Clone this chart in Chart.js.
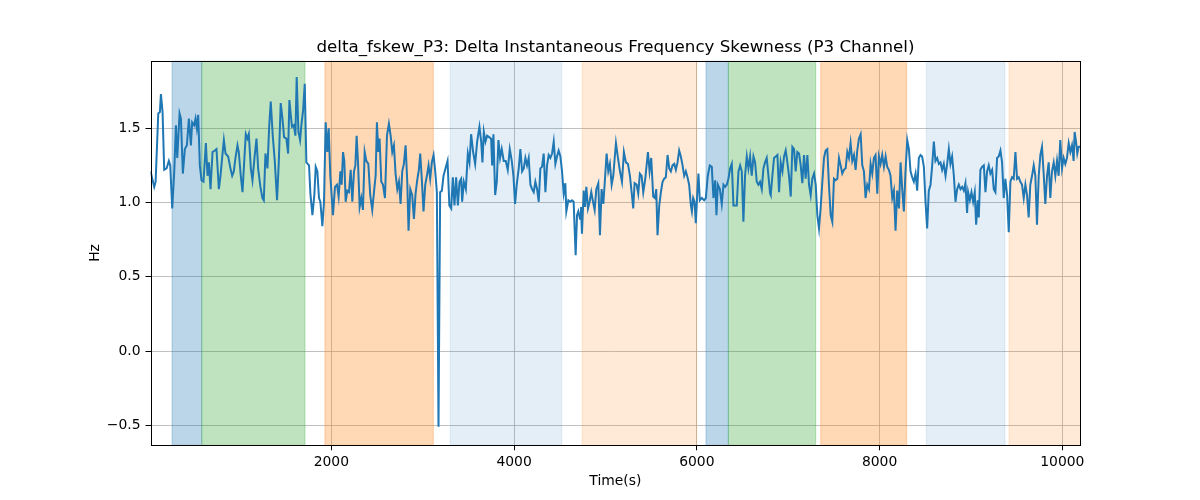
<!DOCTYPE html>
<html>
<head>
<meta charset="utf-8">
<script src="https://cdn.jsdelivr.net/npm/chart.js@4/dist/chart.umd.min.js"></script>
<style>
  html, body { margin: 0; padding: 0; background: #fff; }
  canvas { display: block; }
</style>
</head>
<body>
<canvas id="c" width="1200" height="500"></canvas>
<script>
// ---------------- data ----------------
const chartTitle = 'delta_fskew_P3: Delta Instantaneous Frequency Skewness (P3 Channel)';
const xAxisLabel = 'Time(s)';
const yAxisLabel = 'Hz';

const xTicks = [2000, 4000, 6000, 8000, 10000];
const yTicks = [-0.5, 0.0, 0.5, 1.0, 1.5];
const xRange = [21, 10197];
const yRange = [-0.635, 1.955];

const timeSec = [
  // 0 - 1710
  21,62,77,106,124,135,153,171,197,222,237,259,281,299,314,339,354,375,397,419,
  441,463,477,499,514,528,543,561,579,601,627,645,660,678,700,725,743,769,787,805,
  824,842,871,896,915,933,951,973,987,1009,1028,1046,1064,1082,1097,1119,1137,1159,1181,1199,
  1224,1246,1261,1279,1301,1319,1337,1359,1381,1406,1425,1446,1465,1483,1508,1527,1541,1556,1570,1589,
  1607,1621,1640,1658,1672,1691,1709,
  // 1727 - 3403
  1727,1756,1771,1793,1814,1829,1847,1865,1880,1902,1920,1938,1956,1971,1989,2018,2040,2062,2080,2099,
  2113,2128,2142,2157,2175,2193,2212,2230,2248,2263,2277,2292,2310,2328,2346,2365,2383,2405,2426,2448,
  2470,2485,2499,2514,2528,2547,2565,2587,2609,2630,2649,2667,2685,2703,2722,2740,2758,2776,2794,2813,
  2831,2845,2864,2885,2904,2922,2940,2958,2973,2991,3009,3028,3046,3064,3082,3100,3119,3137,3155,3173,
  3191,3210,3228,3250,3272,3292,3312,3330,3348,3366,3385,3403,
  // 3421 - 5104
  3421,3432,3450,3472,3494,3512,3530,3552,3574,3596,3621,3640,3654,3669,3687,3705,3727,3749,3760,3774,
  3793,3811,3829,3847,3865,3887,3909,3931,3953,3975,3993,4011,4029,4051,4069,4088,4106,4124,4142,4160,
  4179,4197,4215,4233,4252,4270,4288,4306,4324,4343,4361,4379,4397,4416,4434,4452,4470,4488,4507,4525,
  4543,4561,4572,4594,4616,4634,4652,4674,4689,4703,4722,4732,4743,4762,4776,4791,4809,4827,4845,4864,
  4882,4900,4922,4940,4958,4977,4995,5013,5031,5049,5068,5086,5104,
  // 5115 - 6802
  5115,5137,5159,5181,5202,5224,5246,5268,5290,5304,5319,5341,5359,5377,5396,5414,5436,5465,5483,5501,
  5523,5541,5556,5570,5589,5607,5625,5643,5661,5680,5698,5716,5734,5753,5771,5789,5807,5825,5844,5862,
  5880,5898,5916,5935,5946,5960,5975,5989,6004,6018,6033,6055,6080,6099,6120,6142,6164,6182,6201,6215,
  6230,6252,6273,6292,6310,6328,6346,6365,6383,6401,6419,6437,6456,6474,6492,6510,6528,6547,6565,6583,
  6601,6620,6638,6656,6674,6692,6711,6729,6747,6765,6784,6802,
  // 6809 - 8485
  6809,6827,6845,6864,6882,6900,6918,6937,6955,6973,6991,7009,7028,7046,7064,7082,7100,7119,7137,7155,
  7173,7191,7210,7228,7246,7264,7283,7301,7319,7337,7355,7374,7392,7410,7428,7446,7465,7483,7501,7519,
  7538,7556,7574,7592,7610,7629,7647,7665,7683,7701,7720,7738,7756,7774,7793,7811,7829,7847,7865,7884,
  7902,7920,7938,7956,7975,7993,8011,8029,8048,8066,8084,8102,8120,8139,8157,8175,8193,8212,8230,8248,
  8266,8284,8303,8321,8339,8357,8375,8394,8412,8430,8448,8466,8485,
  // 8503 - 10197
  8503,8521,8539,8558,8576,8594,8612,8631,8649,8667,8685,8703,8722,8740,8758,8776,8794,8813,8831,8849,
  8867,8886,8904,8922,8940,8958,8969,8988,9006,9024,9042,9057,9075,9086,9104,9122,9141,9159,9177,9195,
  9213,9232,9250,9268,9286,9304,9323,9341,9359,9377,9396,9414,9432,9450,9468,9487,9505,9523,9541,9559,
  9578,9596,9614,9632,9650,9669,9687,9705,9723,9742,9760,9778,9796,9814,9833,9851,9869,9887,9906,9924,
  9942,9960,9978,9997,10015,10033,10051,10070,10088,10106,10124,10135,10150,10164,10179,10197
];

const skewHz = [
  // 0 - 1710
  1.21,1.105,1.14,1.60,1.61,1.73,1.61,1.22,1.23,1.28,1.25,0.96,1.21,1.52,1.30,1.60,1.565,1.195,1.36,1.385,
  1.565,1.385,1.54,1.52,1.565,1.50,1.59,1.25,1.15,1.14,1.40,1.18,1.27,1.09,1.34,1.35,1.36,1.09,1.18,1.30,
  1.42,1.33,1.31,1.23,1.18,1.21,1.30,1.385,1.34,1.18,1.07,1.27,1.46,1.43,1.46,1.23,1.15,1.30,1.43,1.23,
  1.105,1.03,1.015,1.33,1.23,1.50,1.68,1.45,1.28,1.015,1.27,1.67,1.565,1.44,1.43,1.33,1.69,1.59,1.51,1.52,
  1.45,1.845,1.475,1.42,1.52,1.62,1.80,
  // 1727 - 3403
  1.27,1.25,1.06,0.915,1.05,1.24,1.21,1.03,1.005,0.84,1.005,1.54,1.34,1.50,1.18,0.915,1.105,1.12,1.04,1.21,
  1.12,1.34,1.28,1.005,1.08,1.07,1.22,1.005,1.21,1.25,1.45,1.27,0.97,1.03,0.95,1.34,1.28,1.26,1.05,0.95,
  1.09,1.18,1.54,1.34,1.43,1.14,1.12,1.03,1.45,1.53,1.45,1.34,1.385,1.195,1.09,1.14,0.99,1.21,1.26,1.385,
  1.14,0.81,1.09,1.05,0.89,1.06,1.15,1.22,1.33,1.15,0.94,1.12,1.18,1.25,1.16,1.27,1.32,1.21,1.07,-0.51,
  1.07,1.08,1.18,1.23,1.28,0.98,0.96,1.17,0.98,1.17,0.98,1.14,
  // 3421 - 5104
  1.16,1.005,1.14,1.09,1.33,1.27,1.46,1.34,1.26,1.41,1.51,1.41,1.27,1.475,1.41,1.45,1.44,1.43,1.25,1.46,
  1.05,1.14,1.42,1.30,1.36,1.28,1.28,1.22,1.36,1.28,1.18,0.99,1.12,1.23,1.36,1.21,1.23,1.30,1.25,1.30,
  1.12,1.09,1.07,1.14,1.09,1.005,1.23,1.24,1.33,1.07,1.25,1.32,1.30,1.33,1.41,1.26,1.31,1.35,1.31,1.21,
  1.06,1.13,0.94,1.015,1.005,1.015,1.005,0.645,0.915,0.94,0.89,0.97,0.79,1.08,0.97,1.105,0.96,1.005,1.07,1.005,
  0.95,1.09,1.13,0.78,1.09,0.99,1.16,1.33,1.21,1.26,1.12,1.18,1.32,
  // 5115 - 6802
  1.40,1.30,1.21,1.14,1.34,1.27,1.26,1.18,1.05,0.96,1.13,1.12,1.06,1.195,1.18,1.07,1.16,1.34,1.21,1.30,
  1.04,1.03,1.09,0.78,0.98,1.07,1.14,1.16,1.17,1.32,1.23,1.21,1.25,1.26,1.22,1.27,1.35,1.31,1.25,1.18,
  1.21,1.17,1.12,0.98,0.94,1.03,1.005,0.86,1.05,1.195,1.015,1.03,1.015,1.03,1.18,1.25,1.24,1.03,1.15,0.915,
  1.12,1.09,0.99,1.12,1.105,1.12,1.16,1.23,1.26,0.98,0.98,0.98,1.21,1.25,1.21,0.87,1.18,1.31,1.23,1.31,
  1.18,1.31,1.27,1.14,1.12,1.14,1.09,1.23,1.27,1.30,1.18,1.06,
  // 6809 - 8485
  1.05,1.18,1.30,1.31,1.32,1.07,1.27,1.21,1.31,1.35,1.27,1.18,1.04,1.375,1.36,1.21,1.34,1.33,1.25,1.13,
  1.32,1.16,1.32,1.12,1.05,1.16,1.195,1.12,0.915,0.825,0.96,1.14,1.30,1.35,1.36,1.12,0.915,0.87,1.16,1.15,
  1.16,1.30,1.25,1.195,1.22,1.23,1.34,1.30,1.40,1.28,1.32,1.22,1.35,1.43,1.46,1.25,1.21,1.03,1.12,1.09,
  1.26,1.195,1.30,1.32,1.06,1.31,1.26,1.32,1.24,1.31,1.24,1.22,1.18,1.03,1.08,0.81,1.08,0.96,1.27,1.09,
  0.94,1.21,1.42,1.36,1.21,1.17,1.14,1.195,1.08,1.30,1.32,1.31,1.24,
  // 8503 - 10197
  1.005,0.825,1.08,1.12,1.25,1.41,1.28,1.30,1.26,1.27,1.22,1.26,1.18,1.26,1.36,1.26,1.31,1.18,1.005,1.09,
  1.12,1.09,1.105,1.08,1.13,0.93,1.07,1.015,1.07,1.005,1.07,0.85,1.015,0.90,1.22,1.24,1.25,1.07,1.21,1.25,
  1.195,1.22,1.09,1.07,1.30,1.31,1.35,1.27,1.03,1.16,1.05,0.80,1.14,1.17,1.16,1.34,1.16,1.17,1.14,1.12,
  1.03,1.12,1.05,0.90,1.12,1.18,1.25,1.18,0.85,1.18,1.32,1.375,1.195,0.99,1.18,1.27,1.03,1.21,1.27,1.18,
  1.28,1.18,1.42,1.23,1.30,1.26,1.30,1.40,1.34,1.385,1.28,1.475,1.41,1.33,1.375,1.375
];

// shaded intervals (start, end, kind)
const spanStart = [257, 582, 1930, 3301, 4744, 6100, 6345, 7356, 8512, 9417];
const spanEnd   = [582, 1712, 3116, 4522, 5999, 6345, 7301, 8297, 9373, 10400];
const spanKind  = ['blue', 'green', 'orange', 'lightblue', 'lightorange',
                   'blue', 'green', 'orange', 'lightblue', 'lightorange'];
const spanColors = {
  blue: 'rgba(31,119,180,0.3)',
  green: 'rgba(44,160,44,0.3)',
  orange: 'rgba(255,127,14,0.3)',
  lightblue: 'rgba(31,119,180,0.12)',
  lightorange: 'rgba(255,127,14,0.16)'
};

// ---------------- chart ----------------
const points = timeSec.map((t, i) => ({ x: t, y: skewHz[i] }));
const FONT = "'DejaVu Sans', 'Liberation Sans', sans-serif";

const AREA = { left: 150.5, top: 60.7, right: 1080.3, bottom: 445.3 };

const spansPlugin = {
  id: 'spans',
  beforeDatasetsDraw(chart) {
    const { ctx, chartArea, scales } = chart;
    ctx.save();
    ctx.beginPath();
    ctx.rect(chartArea.left, chartArea.top, chartArea.right - chartArea.left, chartArea.bottom - chartArea.top);
    ctx.clip();
    for (let i = 0; i < spanStart.length; i++) {
      const x0 = scales.x.getPixelForValue(spanStart[i]);
      const x1 = scales.x.getPixelForValue(spanEnd[i]);
      const c = spanColors[spanKind[i]];
      ctx.fillStyle = c;
      ctx.fillRect(x0, chartArea.top, x1 - x0, chartArea.bottom - chartArea.top);
      ctx.strokeStyle = c;
      ctx.lineWidth = 1;
      ctx.strokeRect(x0, chartArea.top, x1 - x0, chartArea.bottom - chartArea.top);
    }
    ctx.restore();
  }
};

const framePlugin = {
  id: 'frame',
  afterDraw(chart) {
    const { ctx, chartArea } = chart;
    ctx.save();
    ctx.strokeStyle = '#000';
    ctx.lineWidth = 1;
    ctx.strokeRect(Math.round(chartArea.left) + 0.5, Math.round(chartArea.top) + 0.5,
      Math.round(chartArea.right) - Math.round(chartArea.left), Math.round(chartArea.bottom) - Math.round(chartArea.top));
    ctx.fillStyle = '#000';
    // title
    ctx.font = '16.7px ' + FONT;
    ctx.textAlign = 'center';
    ctx.textBaseline = 'alphabetic';
    const cx = (chartArea.left + chartArea.right) / 2;
    ctx.fillText(chartTitle, cx, chartArea.top - 8.6);
    // axis labels
    ctx.font = '13.9px ' + FONT;
    ctx.textBaseline = 'middle';
    ctx.fillText(xAxisLabel, cx, 481);
    ctx.save();
    ctx.translate(95, (chartArea.top + chartArea.bottom) / 2);
    ctx.rotate(-Math.PI / 2);
    ctx.fillText(yAxisLabel, 0, 0);
    ctx.restore();
    ctx.restore();
  }
};

function fmtY(v) {
  const s = Math.abs(v).toFixed(1);
  return (v < 0 ? '\u2212' : '') + s;
}

new Chart(document.getElementById('c'), {
  type: 'line',
  data: {
    datasets: [{
      data: points,
      borderColor: '#1f77b4',
      borderWidth: 2,
      pointRadius: 0,
      tension: 0,
      fill: false
    }]
  },
  options: {
    responsive: false,
    devicePixelRatio: 1,
    animation: false,
    parsing: true,
    layout: { padding: { top: AREA.top, right: 1200 - AREA.right, bottom: 0, left: 0 } },
    plugins: { legend: { display: false }, title: { display: false }, tooltip: { enabled: false } },
    scales: {
      x: {
        type: 'linear',
        min: xRange[0],
        max: xRange[1],
        afterFit(scale) { scale.height = 500 - AREA.bottom; },
        afterBuildTicks(scale) { scale.ticks = xTicks.map(v => ({ value: v })); },
        grid: { color: '#b0b0b0', lineWidth: 0.8, drawTicks: true, tickLength: 5, tickColor: '#000', tickWidth: 1 },
        border: { display: false },
        ticks: {
          color: '#000',
          font: { family: FONT, size: 13.9 },
          padding: 4,
          maxRotation: 0,
          autoSkip: false,
          callback: v => String(v)
        }
      },
      y: {
        type: 'linear',
        min: yRange[0],
        max: yRange[1],
        afterFit(scale) { scale.width = AREA.left; },
        afterBuildTicks(scale) { scale.ticks = yTicks.map(v => ({ value: v })); },
        grid: { color: '#b0b0b0', lineWidth: 0.8, drawTicks: true, tickLength: 5, tickColor: '#000', tickWidth: 1 },
        border: { display: false },
        ticks: {
          color: '#000',
          font: { family: FONT, size: 13.9 },
          padding: 5,
          autoSkip: false,
          callback: v => fmtY(v)
        }
      }
    }
  },
  plugins: [spansPlugin, framePlugin]
});
</script>
</body>
</html>
